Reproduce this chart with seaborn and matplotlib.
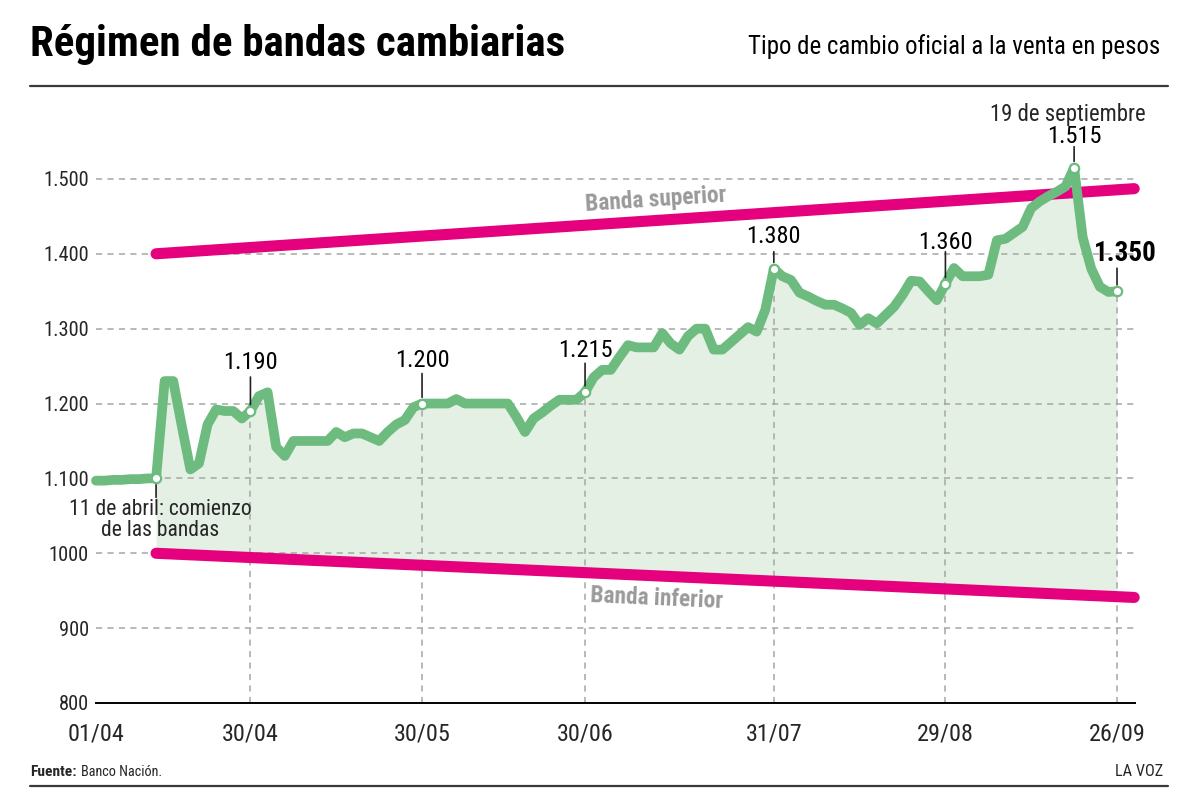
import numpy as np
import pandas as pd
import matplotlib
matplotlib.use('Agg')
import matplotlib.pyplot as plt
from matplotlib.lines import Line2D
from matplotlib import font_manager
from matplotlib.font_manager import FontProperties
import seaborn as sns

# trading days of the official market (Argentina, 2025)
HOLIDAYS = ['2025-04-02', '2025-04-17', '2025-04-18', '2025-05-01', '2025-05-02',
            '2025-06-16', '2025-06-20', '2025-07-09', '2025-08-15']
START, END = '2025-04-01', '2025-09-26'

# BNA selling rate, one value per trading day
apr = [1097, 1097, 1098, 1098, 1099, 1099, 1100, 1100, 1230, 1230, 1170, 1112, 1120,
       1172, 1192, 1190, 1190, 1180, 1190]
may = [1210, 1215, 1142, 1130, 1150, 1150, 1150, 1150, 1150, 1162, 1155, 1160, 1160,
       1155, 1150, 1162, 1172, 1178, 1195, 1200]
jun = [1200, 1200, 1200, 1206, 1200, 1200, 1200, 1200, 1200, 1200, 1182, 1162, 1180,
       1188, 1197, 1205, 1205, 1205, 1215]
jul = [1235, 1245, 1245, 1262, 1278, 1275, 1275, 1275, 1294, 1280, 1272, 1290, 1300,
       1300, 1272, 1272, 1282, 1292, 1302, 1296, 1325, 1380]
aug = [1370, 1365, 1348, 1343, 1337, 1332, 1332, 1327, 1321, 1305, 1314, 1307, 1318,
       1329, 1345, 1364, 1363, 1350, 1338, 1360]
sep = [1381, 1370, 1370, 1370, 1372, 1418, 1420, 1428, 1436, 1461, 1470, 1477, 1483,
       1490, 1515, 1422, 1380, 1356, 1349, 1350]
rate = apr + may + jun + jul + aug + sep

band_dates = ['2025-04-11', '2025-09-30']
band_upper = [1400, 1487]
band_lower = [1000, 941]

tick_dates = ['2025-04-01', '2025-04-30', '2025-05-30', '2025-06-30',
              '2025-07-31', '2025-08-29', '2025-09-26']
tick_labels = ['01/04', '30/04', '30/05', '30/06', '31/07', '29/08', '26/09']
yticks = [800, 900, 1000, 1100, 1200, 1300, 1400, 1500]
ytick_labels = ['800', '900', '1000', '1.100', '1.200', '1.300', '1.400', '1.500']

marked_dates = ['2025-04-11', '2025-04-30', '2025-05-30', '2025-06-30',
                '2025-07-31', '2025-08-29', '2025-09-19', '2025-09-26']

GREEN = '#6dbb7e'
FILL = '#e3f0e3'
PINK = '#e5007d'
GRID = '#a6a6a6'

sns.set_style('white')
available = {f.name for f in font_manager.fontManager.ttflist}
prefs = ['Roboto Condensed', 'Liberation Sans Narrow', 'DejaVu Sans Condensed',
         'Lato', 'Roboto', 'DejaVu Sans']
BODY = next(f for f in prefs if f in available)
plt.rcParams['font.family'] = [BODY, 'DejaVu Sans']


def tpos(d):
    d = np.asarray(pd.to_datetime(d).values.astype('datetime64[D]'))
    return np.busday_count(np.datetime64(START), d, holidays=HOLIDAYS)


days = pd.bdate_range(START, END, freq='C', holidays=HOLIDAYS)
series = pd.Series(rate, index=days)
x = tpos(days)
y = np.array(rate, dtype=float)
bx = tpos(band_dates)

fig = plt.figure(figsize=(12, 8.09), dpi=100)
renderer = fig.canvas.get_renderer()


def fs(s, width_px, weight='normal', k=1.1):
    # font size from the text's width in the reference (reference face is a bit taller)
    prop = FontProperties(family=[BODY], weight=weight, size=10)
    w, _, _ = renderer.get_text_width_height_descent(s, prop, ismath=False)
    return 10 * width_px / w * k


ax = fig.add_axes([96 / 1200, 106 / 809, 1039 / 1200, 569 / 809])
ax.set_xlim(0, 1039 / 8.58)
ax.set_ylim(800, 1560)

# fill between the rate and the lower band, from the start of the bands
m = x >= bx[0]
ax.fill_between(x[m], y[m], np.interp(x[m], bx, band_lower), color=FILL, lw=0, zorder=1)

for v in yticks[1:]:
    ax.axhline(v, color=GRID, lw=1.1, ls=(0, (4, 3.5)), zorder=1.5)
tx = tpos(tick_dates)
tv = [series[pd.Timestamp(d)] for d in tick_dates]
ax.vlines(tx[1:], 800, tv[1:], color=GRID, lw=1.1, ls=(0, (4, 3.5)), zorder=1.5)

sns.lineplot(x=bx, y=band_upper, ax=ax, color=PINK, lw=8, zorder=3,
             solid_capstyle='round', clip_on=False)
sns.lineplot(x=bx, y=band_lower, ax=ax, color=PINK, lw=8, zorder=3,
             solid_capstyle='round', clip_on=False)
sns.lineplot(x=x, y=y, ax=ax, color=GREEN, lw=7, zorder=4,
             solid_capstyle='round', solid_joinstyle='round', clip_on=False)

mx = tpos(marked_dates)
mv = [series[pd.Timestamp(d)] for d in marked_dates]
sns.scatterplot(x=mx, y=mv, ax=ax, s=45, color='white', edgecolor=GREEN,
                linewidth=1.6, zorder=5, clip_on=False)

NUM = fs('1.200', 49)
NUMB = fs('1.350', 55, 'bold', 1.15)
P = 0.72
# label styles per marked point: text offset (px), line length (px), text dx (px)
label_style = {
    '2025-04-30': (49, 34, 0),
    '2025-05-30': (43, 30, 0),
    '2025-06-30': (42, 29, 0),
    '2025-07-31': (32, 17, 0),
    '2025-08-29': (41, 32, 0),
    '2025-09-19': (31, 21, 0),
    '2025-09-26': (38, 23, 8),
}
for d, xi, v in zip(marked_dates, mx, mv):
    if d not in label_style:
        continue
    dy, ln, dx = label_style[d]
    bold = d == '2025-09-26'
    ax.annotate('', xy=(xi, v), xytext=(0, ln * P), textcoords='offset points',
                arrowprops=dict(arrowstyle='-', lw=1.2, color='#222222',
                                shrinkA=0, shrinkB=4.5), zorder=4.5)
    ax.annotate(f'{v:,}'.replace(',', '.'), xy=(xi, v), xytext=(dx * P, dy * P),
                textcoords='offset points', ha='center', va='center',
                fontsize=NUMB if bold else NUM, fontweight='bold' if bold else 'normal',
                color='black', annotation_clip=False)
    if d == '2025-09-19':
        ax.annotate('19 de septiembre', xy=(xi, v), xytext=(-6 * P, 53 * P),
                    textcoords='offset points', ha='center', va='center',
                    fontsize=fs('19 de septiembre', 140), annotation_clip=False)

# start of the bands
xi, v = mx[0], mv[0]
ax.annotate('', xy=(xi, v), xytext=(0, -19 * P), textcoords='offset points',
            arrowprops=dict(arrowstyle='-', lw=1.2, color='#222222',
                            shrinkA=0, shrinkB=4.5), zorder=4.5)
ax.annotate('11 de abril: comienzo\nde las bandas', xy=(xi, v), xytext=(4 * P, -21 * P),
            textcoords='offset points', ha='center', va='top',
            fontsize=fs('11 de abril: comienzo', 165), linespacing=0.95,
            annotation_clip=False)


# band labels, rotated along each band
def band_angle(yv):
    p = ax.transData.transform(np.column_stack([bx, yv]))
    return np.degrees(np.arctan2(p[1, 1] - p[0, 1], p[1, 0] - p[0, 0]))


BAND_FS = fs('Banda superior', 135, 'bold', 1.05)
ax.text(65.2, 1472, 'Banda superior', ha='center', va='center', fontsize=BAND_FS,
        fontweight='bold', color='#9a9a9a', rotation=band_angle(band_upper),
        rotation_mode='anchor')
ax.text(65.4, 940, 'Banda inferior', ha='center', va='center', fontsize=BAND_FS,
        fontweight='bold', color='#9a9a9a', rotation=band_angle(band_lower),
        rotation_mode='anchor')

ax.set_xticks(tx)
ax.set_xticklabels(tick_labels, fontsize=fs('30/04', 51))
ax.set_yticks(yticks)
ax.set_yticklabels(ytick_labels, fontsize=fs('1.200', 41))
ax.tick_params(axis='x', length=13, width=1.2, color='black', direction='out', pad=1)
ax.tick_params(axis='y', length=0, pad=5)
ax.set_xlabel('')
ax.set_ylabel('')
for s in ['top', 'right', 'left']:
    ax.spines[s].set_visible(False)
ax.spines['bottom'].set_color('black')
ax.spines['bottom'].set_linewidth(1.4)
ax.spines['bottom'].set_zorder(6)

# header and footer
title = 'Régimen de bandas cambiarias'
fig.text(30 / 1200, 1 - 56 / 809, title, fontsize=fs(title, 537, 'black', 1.0),
         fontweight='black', ha='left', va='baseline', color='black')
sub = 'Tipo de cambio oficial a la venta en pesos'
fig.text(1160 / 1200, 1 - 47 / 809, sub, fontsize=fs(sub, 387, k=1.06),
         ha='right', va='center', color='black')
for yy in (86, 786):
    fig.add_artist(Line2D([30 / 1200, 1168 / 1200], [1 - yy / 809] * 2,
                          color='#3a3a3a', lw=1.6))
fig.text(30 / 1200, 1 - 772 / 809, 'Fuente:', fontsize=fs('Fuente:', 46, 'bold', 1.0),
         fontweight='bold', ha='left', va='center')
fig.text(81 / 1200, 1 - 772 / 809, 'Banco Nación.',
         fontsize=fs('Banco Nación.', 82, k=1.0), ha='left', va='center')
fig.text(1163 / 1200, 1 - 772 / 809, 'LA VOZ', fontsize=fs('LA VOZ', 48, k=1.0),
         ha='right', va='center')

fig.savefig('out.png', dpi=100)
